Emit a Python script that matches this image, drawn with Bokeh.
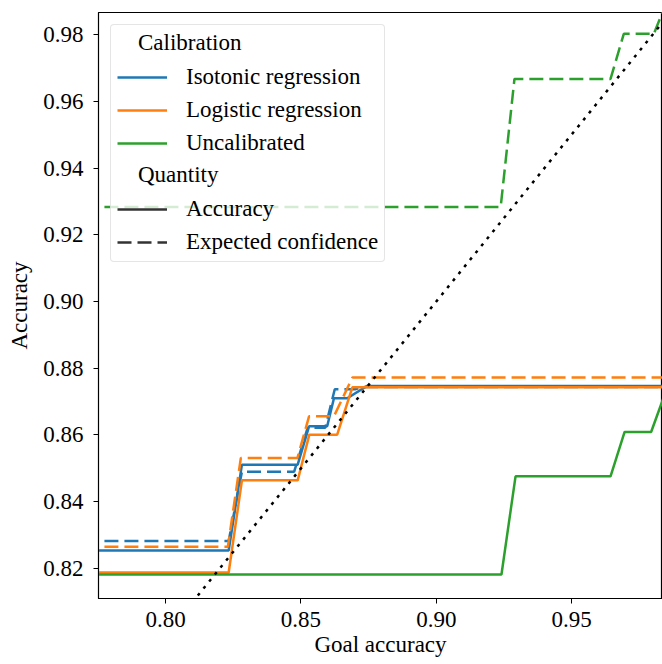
from bokeh.plotting import figure
from bokeh.models import Range1d, FixedTicker, Legend, LegendItem, PrintfTickFormatter
from bokeh.embed import file_html
from bokeh.resources import INLINE

FONT = "Liberation Serif"
FS = "23px"
BLUE = "#1f77b4"
ORANGE = "#ff7f0e"
GREEN = "#2ca02c"

# goal accuracy / accuracy pairs
iso_acc_x = [0.770, 0.8233, 0.8282, 0.8488, 0.8530, 0.8597, 0.8622, 0.8671, 0.8745, 0.990]
iso_acc_y = [0.8254, 0.8254, 0.8511, 0.8511, 0.8626, 0.8626, 0.8710, 0.8710, 0.8747, 0.8747]
iso_conf_x = [0.770, 0.8233, 0.8282, 0.8475, 0.8525, 0.8590, 0.8625, 0.8700, 0.8730, 0.990]
iso_conf_y = [0.8282, 0.8282, 0.8490, 0.8490, 0.8622, 0.8622, 0.8737, 0.8737, 0.8744, 0.8744]

log_acc_x = [0.770, 0.8233, 0.8282, 0.8488, 0.8531, 0.8634, 0.8690, 0.990]
log_acc_y = [0.8188, 0.8188, 0.8464, 0.8464, 0.8601, 0.8601, 0.8743, 0.8743]
log_conf_x = [0.770, 0.8230, 0.8278, 0.8487, 0.8530, 0.8622, 0.8690, 0.990]
log_conf_y = [0.8265, 0.8265, 0.8531, 0.8531, 0.8656, 0.8656, 0.8772, 0.8772]

unc_acc_x = [0.770, 0.9241, 0.9293, 0.9644, 0.9696, 0.9794, 0.9840]
unc_acc_y = [0.8182, 0.8182, 0.8476, 0.8476, 0.8609, 0.8609, 0.8712]
unc_conf_x = [0.770, 0.9238, 0.9289, 0.9644, 0.9693, 0.9804, 0.9840]
unc_conf_y = [0.9283, 0.9283, 0.9667, 0.9667, 0.9802, 0.9802, 0.9875]

ideal = [0.770, 0.990]

x_ticks = [0.80, 0.85, 0.90, 0.95]
y_ticks = [0.82, 0.84, 0.86, 0.88, 0.90, 0.92, 0.94, 0.96, 0.98]

p = figure(width=662, height=664, output_backend="svg", toolbar_location=None,
           x_range=Range1d(0.7752, 0.9836), y_range=Range1d(0.8110, 0.9866),
           min_border_left=98, min_border_right=0, min_border_top=12, min_border_bottom=66)
p.grid.visible = False
p.outline_line_color = "black"
p.outline_line_width = 1.2
p.background_fill_color = "white"

p.xaxis.ticker = FixedTicker(ticks=x_ticks)
p.yaxis.ticker = FixedTicker(ticks=y_ticks)
p.xaxis.formatter = PrintfTickFormatter(format="%.2f")
p.yaxis.formatter = PrintfTickFormatter(format="%.2f")
p.xaxis.axis_label = "Goal accuracy"
p.yaxis.axis_label = "Accuracy"
for ax in (p.xaxis, p.yaxis):
    ax.axis_line_color = "black"
    ax.major_tick_line_color = "black"
    ax.major_tick_in = 0
    ax.major_tick_out = 5
    ax.minor_tick_line_color = None
    ax.major_label_text_font = FONT
    ax.major_label_text_font_size = FS
    ax.major_label_text_color = "black"
    ax.axis_label_text_font = FONT
    ax.axis_label_text_font_size = FS
    ax.axis_label_text_font_style = "normal"
    ax.axis_label_text_color = "black"
p.xaxis.major_label_standoff = 8
p.xaxis.axis_label_standoff = 2
p.yaxis.major_label_standoff = 10
p.yaxis.axis_label_standoff = 8

lw = 2.5
dash = "14 6"
r_iso = p.line(iso_acc_x, iso_acc_y, line_color=BLUE, line_width=lw)
p.line(iso_conf_x, iso_conf_y, line_color=BLUE, line_width=lw, line_dash=dash)
r_log = p.line(log_acc_x, log_acc_y, line_color=ORANGE, line_width=lw)
p.line(log_conf_x, log_conf_y, line_color=ORANGE, line_width=lw, line_dash=dash)
r_unc = p.line(unc_acc_x, unc_acc_y, line_color=GREEN, line_width=lw)
p.line(unc_conf_x, unc_conf_y, line_color=GREEN, line_width=lw, line_dash=dash)
p.line(ideal, ideal, line_color="black", line_width=2.5, line_dash="3 6")

# legend-only handles (no visible data)
nan = [float("nan")]
r_blank = p.line(nan, nan, line_alpha=0)
r_acc = p.line(nan, nan, line_color="#333333", line_width=lw)
r_conf = p.line(nan, nan, line_color="#333333", line_width=lw, line_dash=dash)


def style(lg):
    lg.location = "top_left"
    lg.margin = 12
    lg.padding = 6
    lg.label_height = 26
    lg.glyph_height = 26
    lg.label_text_font = FONT
    lg.label_text_font_size = FS
    lg.label_text_color = "black"


legend = Legend(items=[
    LegendItem(label=" ", renderers=[r_blank]),
    LegendItem(label="Isotonic regression", renderers=[r_iso]),
    LegendItem(label="Logistic regression", renderers=[r_log]),
    LegendItem(label="Uncalibrated", renderers=[r_unc]),
    LegendItem(label="  ", renderers=[r_blank]),
    LegendItem(label="Accuracy", renderers=[r_acc]),
    LegendItem(label="Expected confidence", renderers=[r_conf]),
])
style(legend)
legend.spacing = 7
legend.glyph_width = 50
legend.label_standoff = 19
legend.border_line_color = "#cccccc"
legend.border_line_width = 1
legend.background_fill_alpha = 0.8
legend.border_radius = 4
p.add_layout(legend)

# group headings, shifted left of the entries
headings = Legend(items=[
    LegendItem(label="Calibration", renderers=[r_blank]),
    LegendItem(label="Quantity", renderers=[r_blank]),
])
style(headings)
headings.spacing = 106
headings.glyph_width = 2
headings.label_standoff = 20
headings.border_line_alpha = 0
headings.background_fill_alpha = 0
p.add_layout(headings)

open("out.html", "w").write(file_html(p, INLINE))
